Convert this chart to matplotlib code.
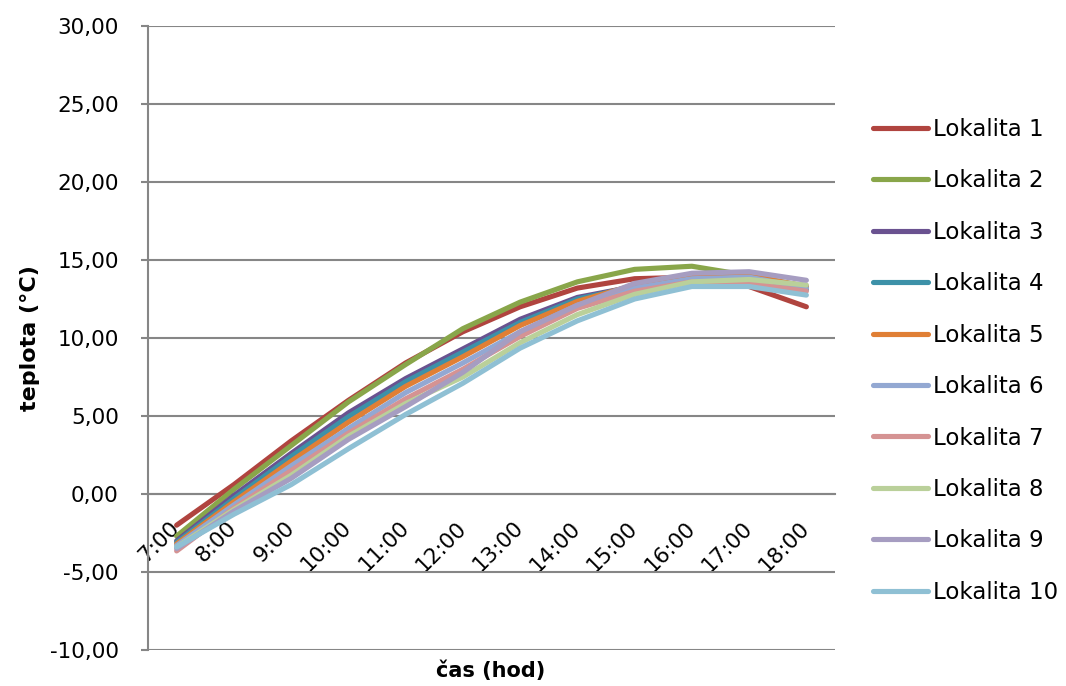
import matplotlib
matplotlib.use("Agg")
import matplotlib.pyplot as plt
import numpy as np

hours = ["7:00", "8:00", "9:00", "10:00", "11:00", "12:00",
         "13:00", "14:00", "15:00", "16:00", "17:00", "18:00"]

lok1 = [-2.0, 0.6, 3.4, 6.0, 8.4, 10.4, 12.0, 13.2, 13.8, 13.9, 13.3, 12.0]
lok2 = [-2.7, 0.3, 3.1, 5.9, 8.3, 10.6, 12.3, 13.6, 14.4, 14.6, 14.0, 13.3]
lok3 = [-3.0, -0.1, 2.6, 5.2, 7.4, 9.3, 11.2, 12.6, 13.3, 13.8, 13.9, 13.3]
lok4 = [-3.1, -0.3, 2.4, 4.95, 7.2, 9.1, 11.0, 12.5, 13.3, 13.8, 13.9, 13.1]
lok5 = [-3.2, -0.5, 2.1, 4.6, 6.9, 8.8, 10.8, 12.35, 13.4, 13.9, 14.0, 13.3]
lok6 = [-3.3, -0.7, 1.8, 4.2, 6.5, 8.4, 10.4, 12.1, 13.2, 13.8, 13.9, 13.2]
lok7 = [-3.65, -0.9, 1.5, 3.9, 6.1, 8.0, 10.1, 11.9, 13.0, 13.6, 13.5, 13.0]
lok8 = [-3.4, -1.0, 1.2, 3.7, 5.8, 7.5, 9.7, 11.5, 12.8, 13.6, 13.75, 13.4]
lok9 = [-3.5, -1.1, 1.0, 3.5, 5.6, 7.8, 10.4, 12.1, 13.5, 14.15, 14.25, 13.7]
lok10 = [-3.4, -1.3, 0.6, 2.9, 5.1, 7.1, 9.35, 11.1, 12.5, 13.3, 13.3, 12.75]

series = [lok1, lok2, lok3, lok4, lok5, lok6, lok7, lok8, lok9, lok10]
names = ["Lokalita %d" % (i + 1) for i in range(10)]
colors = ["#B0443F", "#89A64A", "#6A5290", "#3D91A8", "#E07F35",
          "#93A8D2", "#D59393", "#BAD09A", "#A69DC1", "#8FC0D4"]
yvals = np.arange(-10, 31, 5)

grid_c = "#868686"

fig = plt.figure(figsize=(10.66, 6.86), dpi=100)
ax = fig.add_axes([148 / 1066, 1 - 650 / 686, (835 - 148) / 1066, (650 - 26) / 686])

# axis spines first: set_position resets the tick setup
for s in ["top", "right"]:
	ax.spines[s].set_visible(False)
ax.spines["left"].set_color(grid_c)
ax.spines["left"].set_linewidth(1.5)
ax.spines["bottom"].set_position(("data", 0))
ax.spines["bottom"].set_color(grid_c)
ax.spines["bottom"].set_linewidth(1.5)

x = np.arange(len(hours))
for vals, name, c in zip(series, names, colors):
	ax.plot(x, vals, color=c, lw=3.7, label=name, zorder=3,
	        solid_capstyle="round", solid_joinstyle="round")

ax.set_xlim(-0.5, len(hours) - 0.5)
ax.set_ylim(-10, 30)
ax.set_yticks(yvals)
ax.set_yticklabels([("%.2f" % v).replace(".", ",") for v in yvals])
ax.yaxis.grid(True, color=grid_c, lw=1.5, zorder=0)
ax.set_axisbelow(True)

ax.set_xticks(x)
ax.set_xticklabels(hours, rotation=45, ha="right", va="center",
                   rotation_mode="anchor", fontsize=15.5)
ax.tick_params(axis="x", length=0, pad=22)
ax.tick_params(axis="y", length=5, width=1.5, color=grid_c, labelsize=15.5, pad=16)

fig.text(30 / 1066, 1 - 338 / 686, "teplota (°C)", rotation=90, ha="center",
         va="center", fontsize=16, fontweight="bold")
fig.text(491 / 1066, 1 - 671 / 686, "čas (hod)", ha="center", va="center",
         fontsize=15, fontweight="bold")

fig.legend(loc="upper left", bbox_to_anchor=(873 / 1066, 1 - 118 / 686),
           frameon=False, fontsize=16.5, handlelength=2.4, handletextpad=0.2,
           labelspacing=1.24, borderpad=0, borderaxespad=0)

plt.savefig("out.png", dpi=100)
